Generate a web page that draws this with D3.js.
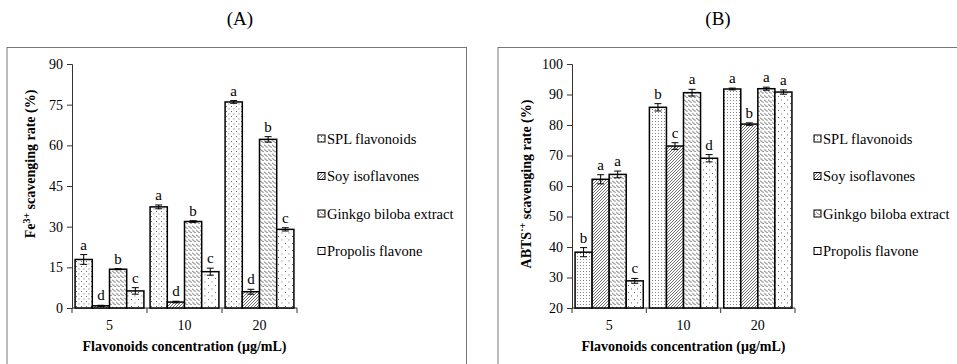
<!DOCTYPE html>
<html>
<head>
<meta charset="utf-8">
<script src="https://cdn.jsdelivr.net/npm/d3@7"></script>
<style>
  html, body { margin: 0; padding: 0; background: #fff; }
  svg { display: block; }
  svg text { font-family: "Liberation Serif", "Times New Roman", "DejaVu Serif", serif !important; fill: #000; }
</style>
</head>
<body>
<svg id="chart" width="957" height="364"></svg>
<script>
// Concentrations on the x axis (µg/mL)
const concentrations = ["5", "10", "20"];
const seriesNames = ["SPL flavonoids", "Soy isoflavones", "Ginkgo biloba extract", "Propolis flavone"];

// (A) Fe3+ scavenging rate (%)
const feSPL      = [17.9, 37.3, 76.0];
const feSoy      = [0.8, 2.2, 6.0];
const feGinkgo   = [14.3, 31.9, 62.2];
const fePropolis = [6.3, 13.4, 29.0];
const feSPLErr      = [1.8, 0.7, 0.5];
const feSoyErr      = [0.2, 0.3, 0.9];
const feGinkgoErr   = [0.2, 0.3, 1.0];
const fePropolisErr = [1.2, 1.3, 0.6];
const feLetters = [["a", "d", "b", "c"], ["a", "d", "b", "c"], ["a", "d", "b", "c"]];
const feTicks = [0, 15, 30, 45, 60, 75, 90];

// (B) ABTS·+ scavenging rate (%)
const abtsSPL      = [38.3, 85.8, 91.8];
const abtsSoy      = [62.2, 73.1, 80.3];
const abtsGinkgo   = [63.8, 90.6, 91.9];
const abtsPropolis = [28.9, 69.1, 90.8];
const abtsSPLErr      = [1.5, 1.2, 0.3];
const abtsSoyErr      = [1.5, 1.1, 0.4];
const abtsGinkgoErr   = [1.1, 1.1, 0.5];
const abtsPropolisErr = [0.8, 1.2, 0.7];
const abtsLetters = [["b", "a", "a", "c"], ["b", "c", "a", "d"], ["a", "b", "a", "a"]];
const abtsTicks = [20, 30, 40, 50, 60, 70, 80, 90, 100];

const SERIF = "'Liberation Serif', 'Times New Roman', 'DejaVu Serif', serif";

const svg = d3.select("#chart");
const defs = svg.append("defs");

// Fill patterns for the four series
function dotPattern(id, w, h, pts, r) {
  const p = defs.append("pattern").attr("id", id)
    .attr("patternUnits", "userSpaceOnUse").attr("width", w).attr("height", h);
  p.append("rect").attr("width", w).attr("height", h).attr("fill", "#fff");
  pts.forEach(([x, y]) => p.append("rect").attr("x", x).attr("y", y)
    .attr("width", r).attr("height", r).attr("fill", "#444"));
}
dotPattern("splA", 5, 5, [[1, 1], [3.5, 3.5]], 0.9);
dotPattern("propA", 7, 7, [[1.5, 1.5], [5, 5]], 0.9);
dotPattern("splB", 3, 3, [[1, 1]], 0.8);
dotPattern("propB", 6, 7, [[1, 1.5], [4, 5]], 0.9);

const hatch = defs.append("pattern").attr("id", "soy")
  .attr("patternUnits", "userSpaceOnUse").attr("width", 3).attr("height", 3);
hatch.append("rect").attr("width", 3).attr("height", 3).attr("fill", "#fff");
hatch.append("path").attr("d", "M-1,1 L1,-1 M0,3 L3,0 M2,4 L4,2")
  .attr("stroke", "#333").attr("stroke-width", 0.7);

const wave = defs.append("pattern").attr("id", "ginkgo")
  .attr("patternUnits", "userSpaceOnUse").attr("width", 4).attr("height", 4.5);
wave.append("rect").attr("width", 4).attr("height", 4.5).attr("fill", "#fff");
wave.append("path").attr("d", "M0.3,1 Q1.2,1.2 1.8,2.2 T3.6,3.2")
  .attr("stroke", "#222").attr("stroke-width", 0.8).attr("fill", "none");

function label(sel, size, weight) {
  return sel.style("font-family", SERIF).style("font-size", size + "px")
    .style("font-weight", weight || "normal");
}

function drawPanel(o) {
  const g = svg.append("g");

  // panel frame (open at the bottom edge of the canvas)
  g.append("rect").attr("x", o.frame[0]).attr("y", 47.5)
    .attr("width", o.frame[1] - o.frame[0]).attr("height", 330)
    .attr("fill", "none").attr("stroke", "#777").attr("stroke-width", 1);

  label(g.append("text").attr("x", o.titleX).attr("y", 25).attr("text-anchor", "middle"), 19)
    .text(o.title);

  const x0 = d3.scaleBand().domain(concentrations).range(o.xRange).paddingInner(0).paddingOuter(0);
  const x1 = d3.scaleBand().domain(d3.range(4)).range([0, x0.bandwidth()]).paddingOuter(0.18);
  const y = d3.scaleLinear().domain(o.yDomain).range([308, 64]);

  // y axis
  const yAxis = g.append("g").attr("transform", `translate(${o.xRange[0]},0)`)
    .call(d3.axisLeft(y).tickValues(o.ticks).tickSize(5).tickPadding(4));
  yAxis.attr("font-family", null);
  label(yAxis.selectAll("text"), 14);
  yAxis.selectAll("line, path").attr("stroke", "#333");

  // x axis with tick marks at category boundaries
  const xAxis = g.append("g").attr("transform", "translate(0,308)");
  xAxis.append("line").attr("x1", o.xRange[0]).attr("x2", o.xRange[1]).attr("stroke", "#333");
  const bounds = concentrations.map(c => x0(c)).concat([o.xRange[1]]);
  xAxis.selectAll(".tk").data(bounds).join("line")
    .attr("x1", d => d).attr("x2", d => d).attr("y1", 0).attr("y2", 5).attr("stroke", "#333");
  label(xAxis.selectAll(".lbl").data(concentrations).join("text")
    .attr("x", d => x0(d) + x0.bandwidth() / 2).attr("y", 22)
    .attr("text-anchor", "middle"), 14).text(d => d);

  label(g.append("text").attr("x", (o.xRange[0] + o.xRange[1]) / 2).attr("y", 351)
    .attr("text-anchor", "middle"), 14, "bold")
    .text("Flavonoids concentration (μg/mL)");

  // y axis title
  const yt = label(g.append("text").attr("transform", `translate(${o.yTitleX},${o.yTitleY}) rotate(-90)`)
    .attr("text-anchor", "middle"), 14, "bold");
  yt.append("tspan").text(o.yTitle[0]);
  yt.append("tspan").attr("dy", -5).style("font-size", "10px").text(o.yTitle[1]);
  yt.append("tspan").attr("dy", 5).text(o.yTitle[2]);

  // bars, error bars and significance letters
  const fills = o.fills;
  concentrations.forEach((c, ci) => {
    o.series.forEach((s, si) => {
      const v = s[ci], e = o.errs[si][ci];
      const bx = x0(c) + x1(si), bw = x1.bandwidth();
      g.append("rect").attr("x", bx).attr("y", y(v))
        .attr("width", bw).attr("height", y(o.yDomain[0]) - y(v))
        .attr("fill", `url(#${fills[si]})`).attr("stroke", "#000").attr("stroke-width", 1.5);
      const cx = bx + bw / 2;
      g.append("path")
        .attr("d", `M${cx - 3.5},${y(v + e)}H${cx + 3.5}M${cx},${y(v + e)}V${y(v - e)}M${cx - 3.5},${y(v - e)}H${cx + 3.5}`)
        .attr("stroke", "#000").attr("stroke-width", 1).attr("fill", "none");
      label(g.append("text").attr("x", cx).attr("y", y(v + e) - 5)
        .attr("text-anchor", "middle"), 15).text(o.letters[ci][si]);
    });
  });

  // legend
  seriesNames.forEach((n, i) => {
    const ly = 139 + i * 37.5;
    g.append("rect").attr("x", o.legendX).attr("y", ly - 4).attr("width", 7).attr("height", 7)
      .attr("fill", `url(#${fills[i]})`).attr("stroke", "#000").attr("stroke-width", 1);
    label(g.append("text").attr("x", o.legendX + 9).attr("y", ly + 4.5), 14.5).text(n);
  });
}

drawPanel({
  title: "(A)", titleX: 240, frame: [7, 466.5],
  xRange: [72, 297], yDomain: [0, 90], ticks: feTicks,
  series: [feSPL, feSoy, feGinkgo, fePropolis],
  errs: [feSPLErr, feSoyErr, feGinkgoErr, fePropolisErr],
  letters: feLetters, fills: ["splA", "soy", "ginkgo", "propA"],
  yTitle: ["Fe", "3+", " scavenging rate (%)"], yTitleX: 35, yTitleY: 164,
  legendX: 318
});

drawPanel({
  title: "(B)", titleX: 718, frame: [498, 960],
  xRange: [572, 795], yDomain: [20, 100], ticks: abtsTicks,
  series: [abtsSPL, abtsSoy, abtsGinkgo, abtsPropolis],
  errs: [abtsSPLErr, abtsSoyErr, abtsGinkgoErr, abtsPropolisErr],
  letters: abtsLetters, fills: ["splB", "soy", "ginkgo", "propB"],
  yTitle: ["ABTS", "·+", " scavenging rate (%)"], yTitleX: 531, yTitleY: 184,
  legendX: 814
});
</script>
</body>
</html>
